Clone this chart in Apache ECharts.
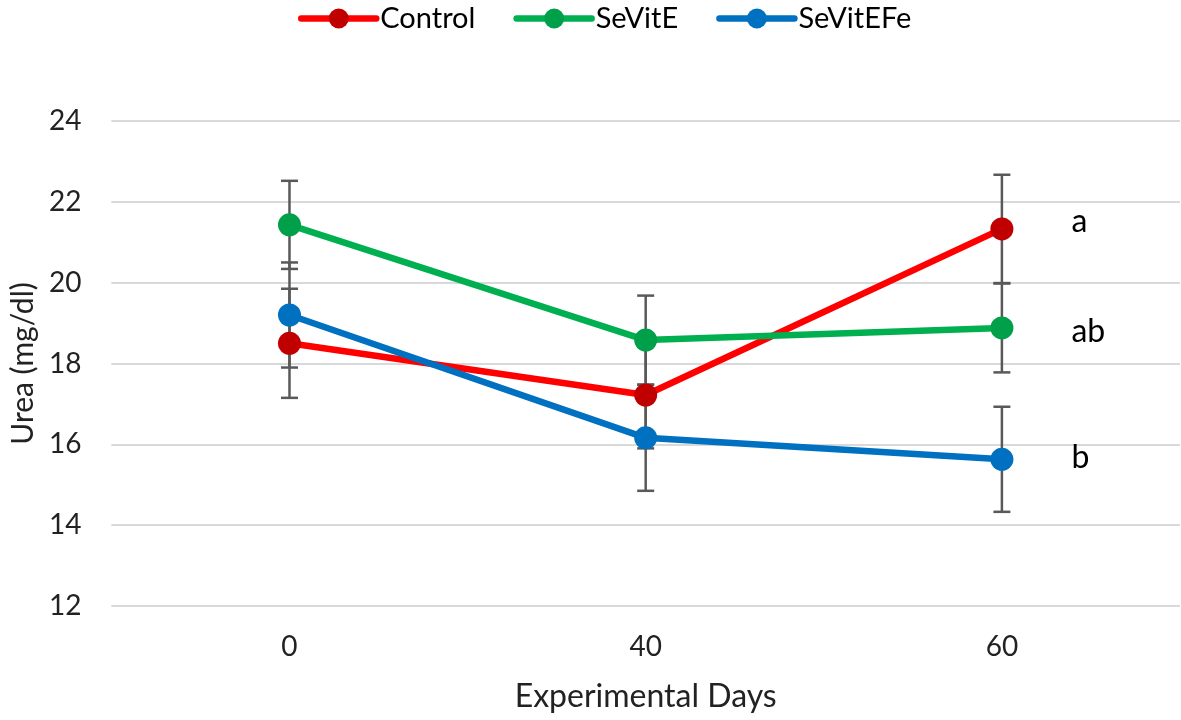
<!DOCTYPE html>
<html>
<head>
<meta charset="utf-8">
<script src="https://cdn.jsdelivr.net/npm/echarts@6/dist/echarts.min.js"></script>
<style>html,body{margin:0;padding:0;background:#fff}#c{width:1181px;height:720px}</style>
</head>
<body>
<div id="c"></div>
<script>
const days = ['0', '40', '60'];
const control = [18.5, 17.22, 21.33];
const controlErr = [1.35, 1.32, 1.34];
const sevite = [21.43, 18.58, 18.88];
const seviteErr = [1.09, 1.1, 1.1];
const sevitefe = [19.2, 16.16, 15.63];
const sevitefeErr = [1.3, 1.31, 1.3];
const letters = ['a', 'ab', 'b'];
const yTicks = [12, 14, 16, 18, 20, 22, 24];

const FONT = 'Lato';
const chart = echarts.init(document.getElementById('c'));

function errData(vals, errs) {
  return vals.map((v, i) => [i, v - errs[i], v + errs[i]]);
}
function errSeries(vals, errs) {
  return {
    type: 'custom',
    z: 1,
    silent: true,
    data: errData(vals, errs),
    encode: { x: 0, y: [1, 2] },
    renderItem: function (params, api) {
      const x = api.value(0);
      const lo = api.coord([x, api.value(1)]);
      const hi = api.coord([x, api.value(2)]);
      const hw = 8.5;
      const st = { stroke: '#595959', lineWidth: 2.5 };
      return {
        type: 'group',
        children: [
          { type: 'line', shape: { x1: lo[0], y1: lo[1], x2: hi[0], y2: hi[1] }, style: st },
          { type: 'line', shape: { x1: lo[0] - hw, y1: lo[1], x2: lo[0] + hw, y2: lo[1] }, style: st },
          { type: 'line', shape: { x1: hi[0] - hw, y1: hi[1], x2: hi[0] + hw, y2: hi[1] }, style: st }
        ]
      };
    }
  };
}
function lineSeries(name, vals, lineColor, markerColor, letter, dy) {
  return {
    name: name,
    type: 'line',
    z: 3,
    data: vals.map((v, i) => {
      if (i === vals.length - 1) {
        return {
          value: v,
          label: {
            show: true, position: 'right', distance: 58, offset: [0, dy], formatter: letter,
            fontFamily: FONT, fontSize: 32, color: '#000'
          }
        };
      }
      return v;
    }),
    symbol: 'circle',
    symbolSize: 23,
    lineStyle: { color: lineColor, width: 6.5 },
    itemStyle: { color: markerColor },
    emphasis: { disabled: true },
    animation: false
  };
}

chart.setOption({
  animation: false,
  textStyle: { fontFamily: FONT },
  legend: {
    top: -1,
    left: 293,
    itemWidth: 75,
    itemHeight: 25,
    itemGap: 38,
    lineStyle: { width: 6.5, cap: 'round' },
    textStyle: { fontFamily: FONT, fontSize: 29, color: '#000', padding: [0, 0, 0, -1] },
    data: ['Control', 'SeVitE', 'SeVitEFe']
  },
  grid: { left: 110, right: 1, top: 121, bottom: 114 },
  xAxis: {
    type: 'category',
    data: days,
    boundaryGap: true,
    axisLine: { show: false },
    axisTick: { show: false },
    axisLabel: { fontFamily: FONT, fontSize: 28, color: '#222', margin: 27 },
    name: 'Experimental Days',
    nameLocation: 'middle',
    nameGap: 75,
    nameTextStyle: { fontFamily: FONT, fontSize: 32, color: '#222' }
  },
  yAxis: {
    type: 'value',
    min: yTicks[0],
    max: yTicks[yTicks.length - 1],
    interval: 2,
    axisLine: { show: false },
    axisTick: { show: false },
    splitLine: { lineStyle: { color: '#D9D9D9', width: 2 } },
    axisLabel: { fontFamily: FONT, fontSize: 28, color: '#222', margin: 30 },
    name: 'Urea (mg/dl)',
    nameLocation: 'middle',
    nameGap: 73,
    nameTextStyle: { fontFamily: FONT, fontSize: 30, color: '#222' }
  },
  series: [
    errSeries(control, controlErr),
    errSeries(sevite, seviteErr),
    errSeries(sevitefe, sevitefeErr),
    lineSeries('Control', control, '#FF0000', '#C00000', letters[0], -7),
    lineSeries('SeVitE', sevite, '#00B050', '#00A04A', letters[1], 4),
    lineSeries('SeVitEFe', sevitefe, '#0070C0', '#0070C0', letters[2], -2)
  ]
});
</script>
</body>
</html>
